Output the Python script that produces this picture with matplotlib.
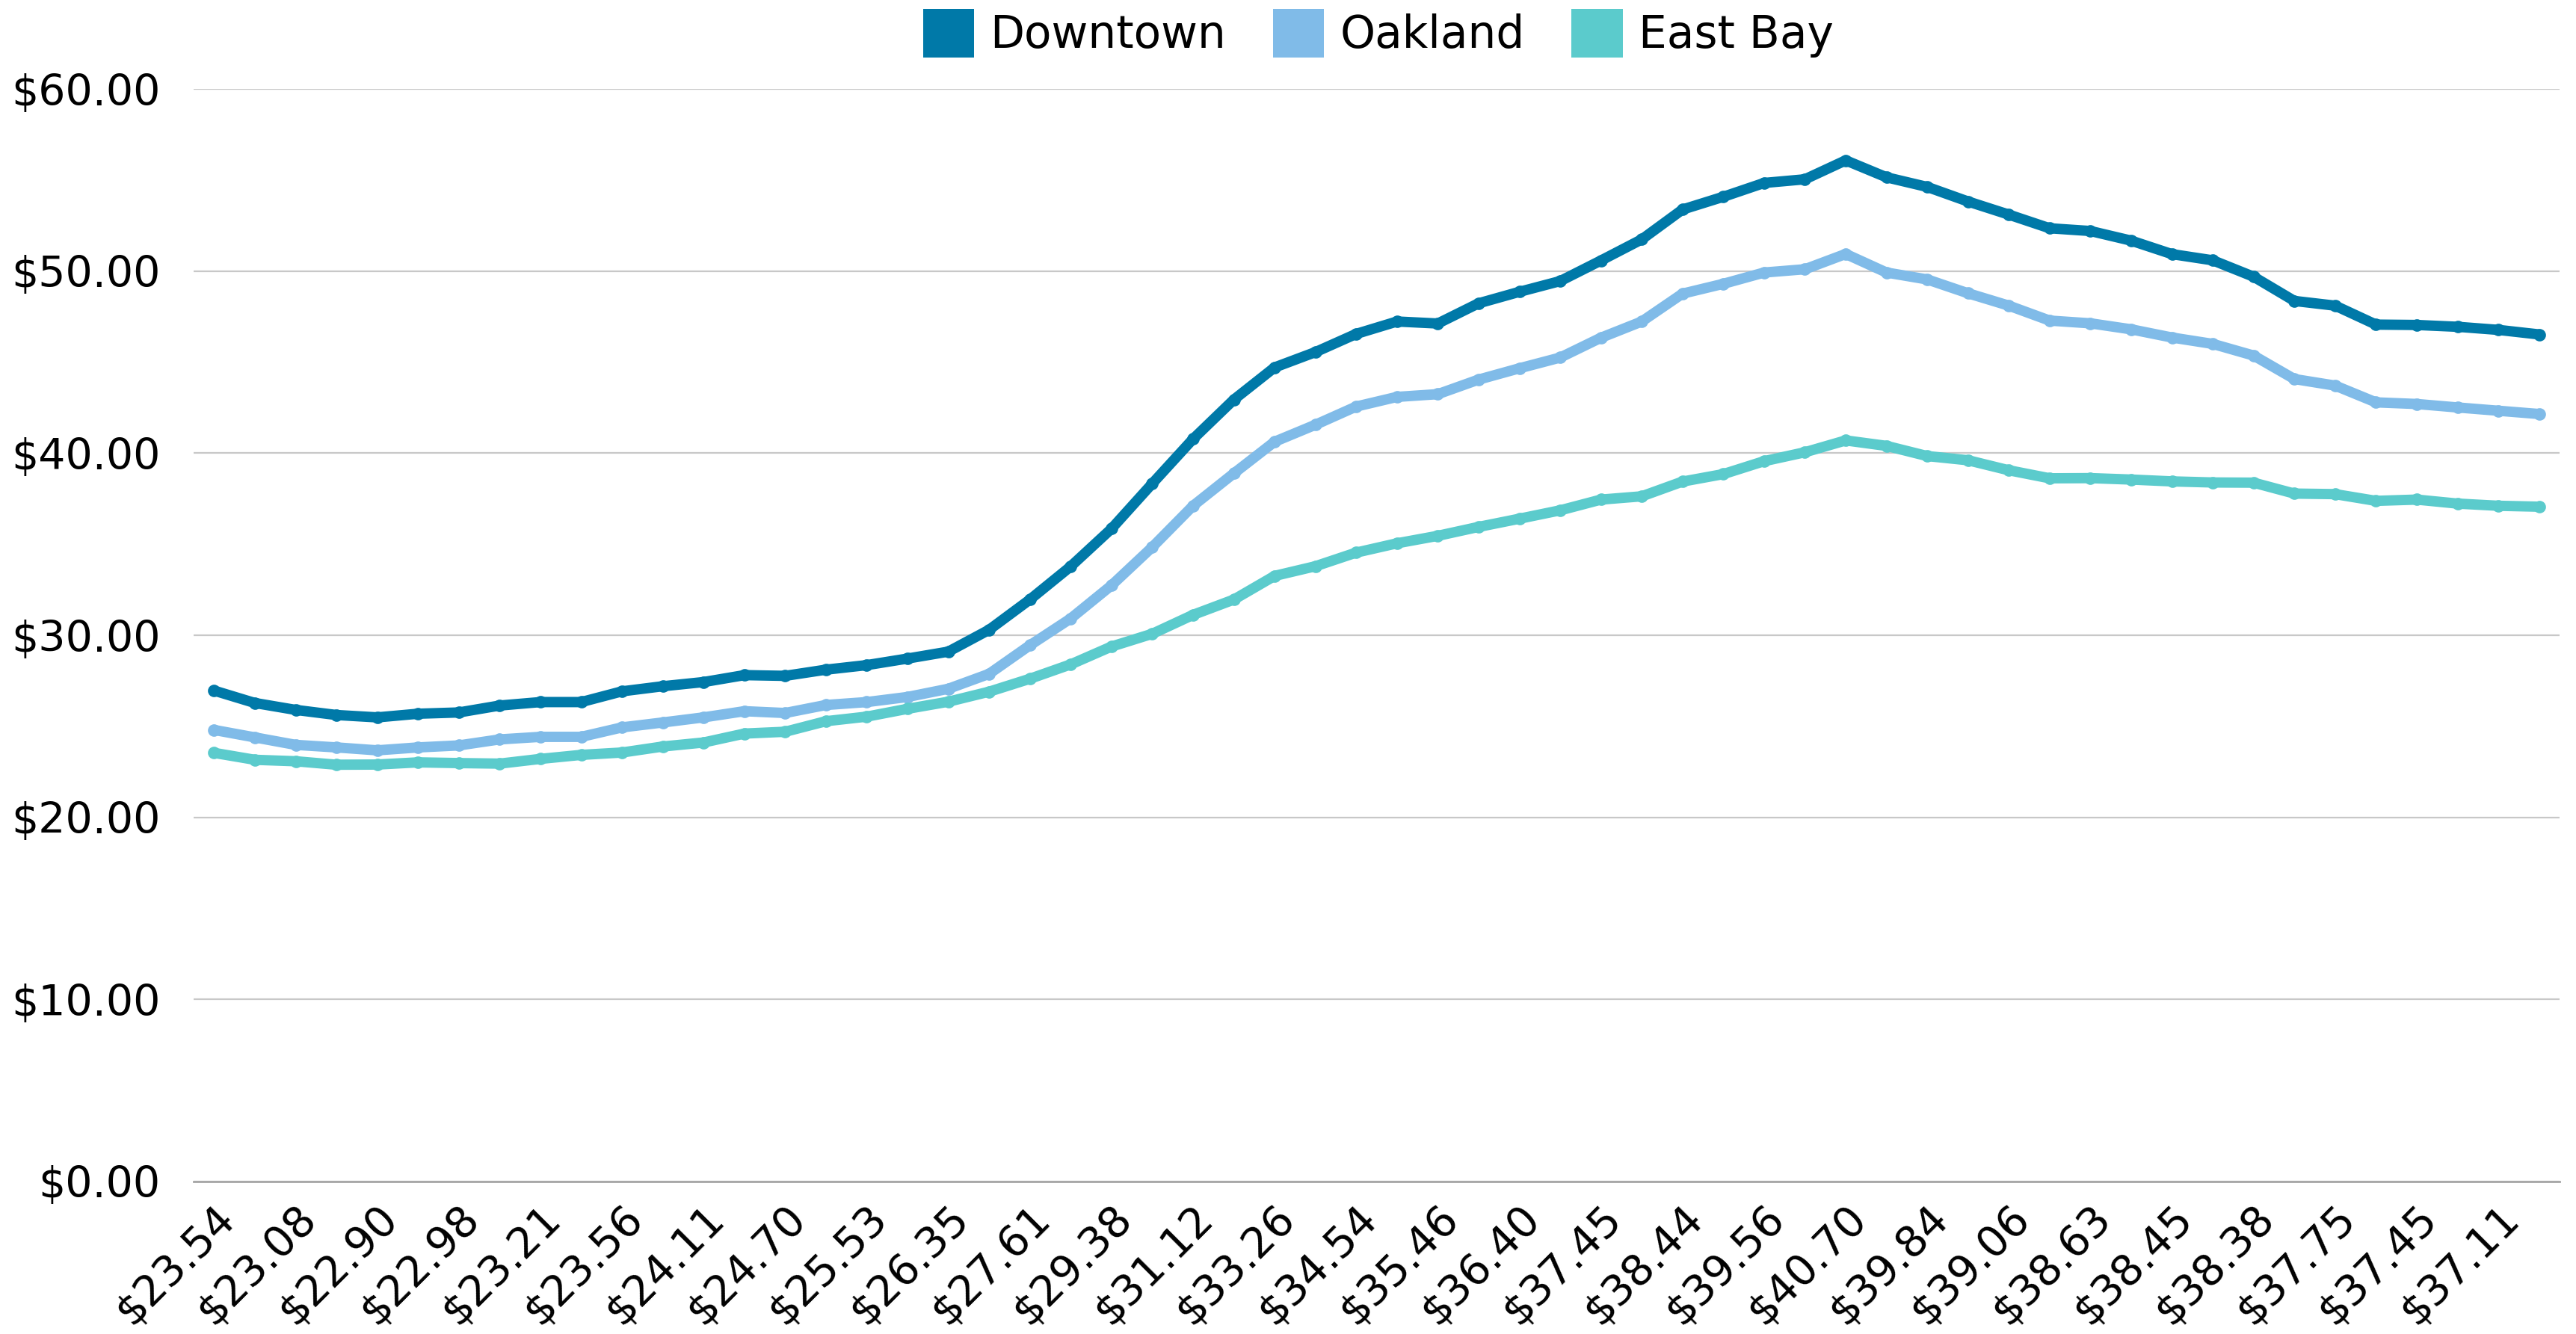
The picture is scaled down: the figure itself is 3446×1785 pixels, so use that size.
import matplotlib
matplotlib.use("Agg")
import matplotlib.pyplot as plt
from matplotlib.patches import Patch
from matplotlib.ticker import FuncFormatter

# wage series, one value per category (58 points)
downtown = [26.96, 26.28, 25.90, 25.62, 25.49, 25.69, 25.76, 26.14, 26.33, 26.33,
            26.92, 27.20, 27.43, 27.81, 27.77, 28.11, 28.36, 28.72, 29.10, 30.30,
            31.96, 33.78, 35.85, 38.33, 40.78, 42.94, 44.71, 45.55, 46.55, 47.23,
            47.12, 48.23, 48.86, 49.45, 50.58, 51.74, 53.38, 54.08, 54.84, 55.04,
            56.08, 55.15, 54.62, 53.82, 53.10, 52.35, 52.20, 51.67, 50.93, 50.59,
            49.69, 48.36, 48.10, 47.06, 47.04, 46.94, 46.77, 46.52]

oakland = [24.80, 24.39, 23.98, 23.84, 23.68, 23.84, 23.95, 24.28, 24.42, 24.42,
           24.94, 25.21, 25.49, 25.83, 25.73, 26.17, 26.33, 26.61, 27.06, 27.88,
           29.45, 30.92, 32.74, 34.84, 37.11, 38.89, 40.63, 41.56, 42.56, 43.09,
           43.24, 44.04, 44.66, 45.25, 46.34, 47.23, 48.76, 49.30, 49.92, 50.10,
           50.94, 49.92, 49.54, 48.78, 48.10, 47.28, 47.13, 46.80, 46.35, 46.00,
           45.36, 44.07, 43.71, 42.79, 42.70, 42.51, 42.33, 42.15]

east_bay = [23.54, 23.16, 23.08, 22.89, 22.90, 23.02, 22.98, 22.95, 23.21, 23.43,
            23.56, 23.89, 24.11, 24.60, 24.70, 25.28, 25.53, 25.96, 26.35, 26.90,
            27.61, 28.40, 29.38, 30.08, 31.12, 31.96, 33.26, 33.79, 34.54, 35.05,
            35.46, 35.95, 36.40, 36.86, 37.45, 37.63, 38.44, 38.85, 39.56, 40.05,
            40.70, 40.40, 39.84, 39.61, 39.06, 38.62, 38.63, 38.55, 38.45, 38.39,
            38.38, 37.78, 37.75, 37.38, 37.45, 37.23, 37.11, 37.06]

# category labels on the x axis are the East Bay values
categories = ["$%.2f" % v for v in east_bay]

series_names = ["Downtown", "Oakland", "East Bay"]
colors = ["#0079A8", "#80BBE8", "#5BCBCC"]

plt.rcParams["font.family"] = ["DejaVu Sans"]

fig = plt.figure(figsize=(17.23, 8.925), dpi=200)
ax = fig.add_axes([0.0752, 0.1143, 0.9184, 0.819])

x = list(range(len(categories)))
for vals, c in zip([downtown, oakland, east_bay], colors):
    ax.plot(x, vals, color=c, linewidth=5.0, marker="o", markersize=5.0,
            solid_joinstyle="round", solid_capstyle="round", zorder=3)

ax.set_xlim(-0.5, len(categories) - 0.5)
ax.set_ylim(0, 60)
ax.set_yticks(range(0, 61, 10))
ax.yaxis.set_major_formatter(FuncFormatter(lambda v, p: "$%.2f" % v))
ax.grid(axis="y", color="#C8C8C8", linewidth=0.8, zorder=0)
ax.set_axisbelow(True)

# every other category is labelled, like the source chart
ax.set_xticks(x[::2])
ax.set_xticklabels(categories[::2], rotation=45, ha="right", va="top",
                   rotation_mode="anchor")

for s in ["top", "right", "left"]:
    ax.spines[s].set_visible(False)
ax.spines["bottom"].set_color("#A6A6A6")
ax.spines["bottom"].set_linewidth(1.0)

ax.tick_params(axis="y", length=0, pad=16, labelsize=20.5)
ax.tick_params(axis="x", length=0, pad=8, labelsize=20.5)

handles = [Patch(facecolor=c, edgecolor="none") for c in colors]
fig.legend(handles, series_names, loc="center", bbox_to_anchor=(0.535, 0.975),
           ncol=3, frameon=False, fontsize=21.5, handlelength=1.15,
           handleheight=1.3, handletextpad=0.35, columnspacing=1.05)

fig.savefig("out.png", dpi=200)
